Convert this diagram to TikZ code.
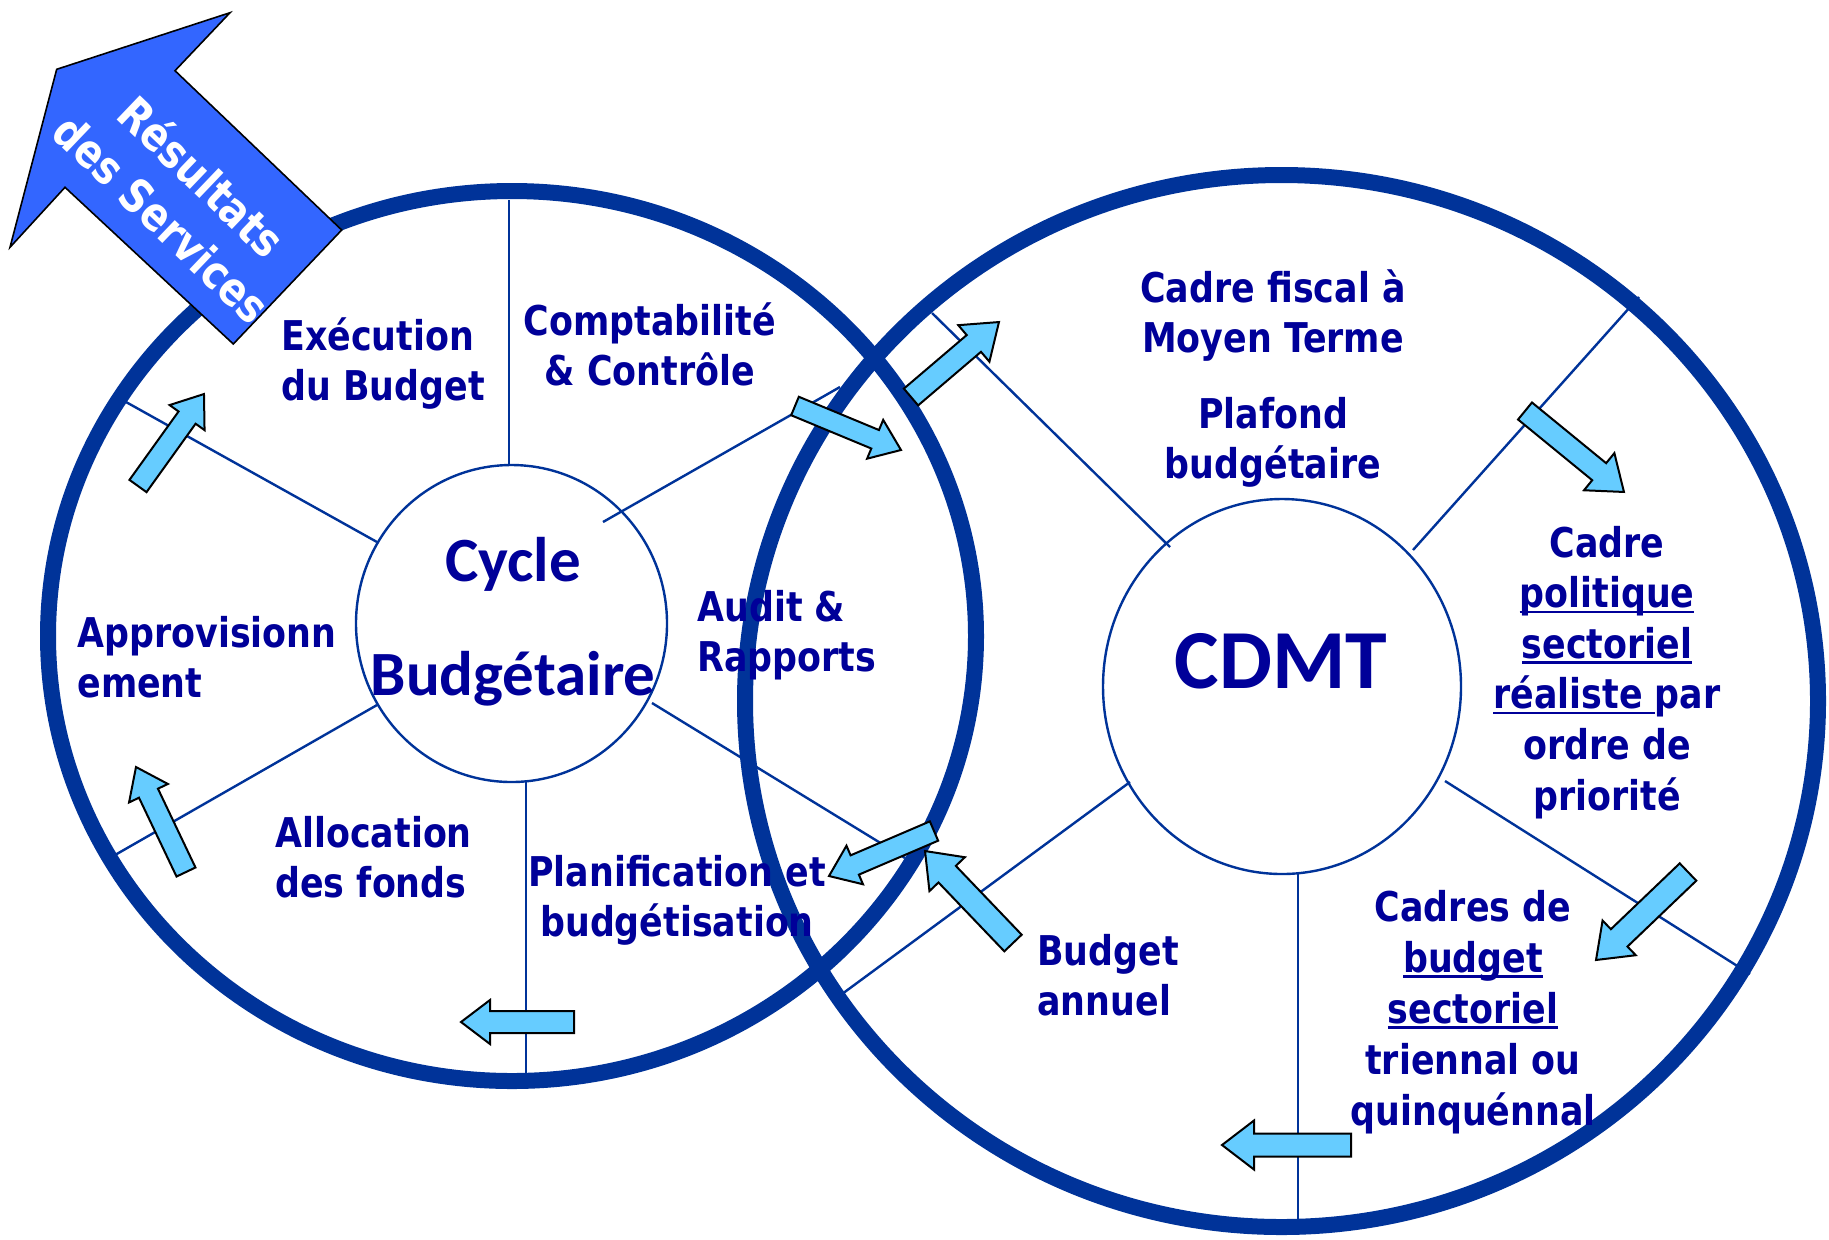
\documentclass[tikz,border=0pt]{standalone}
\usepackage{fontspec}
\newfontfamily\lblfont[FakeStretch=0.85]{DejaVu Sans}
\newfontfamily\titlefont{Carlito}
\definecolor{ringblue}{HTML}{003399}
\definecolor{txtblue}{HTML}{000099}
\definecolor{arrowfill}{HTML}{66CCFF}
\definecolor{bigfill}{HTML}{3366FF}
\newsavebox\ulbox
\newcommand{\ulx}[1]{\sbox\ulbox{#1}\rlap{\rule[-2.75pt]{\wd\ulbox}{1.25pt}}\usebox\ulbox}
% block arrow: tail x,y ; tip x,y ; shaft width ; head width ; head length
\newcommand{\barrow}[7]{%
  \pgfmathsetmacro{\bdx}{#3-#1}%
  \pgfmathsetmacro{\bdy}{#4-#2}%
  \pgfmathsetmacro{\bL}{veclen(\bdx,\bdy)}%
  \pgfmathsetmacro{\bA}{atan2(-\bdy,\bdx)}%
  \begin{scope}[shift={(#1,#2)},rotate=\bA]
    \draw[blockarrow] (0,-#5/2) -- (\bL-#7,-#5/2) -- (\bL-#7,-#6/2) -- (\bL,0)
      -- (\bL-#7,#6/2) -- (\bL-#7,#5/2) -- (0,#5/2) -- cycle;
  \end{scope}}
\begin{document}
\begin{tikzpicture}[x=0.5pt,y=-0.5pt,
  ring/.style={draw=ringblue,line width=8pt},
  hub/.style={draw=ringblue,line width=1.2pt},
  spoke/.style={draw=ringblue,line width=1.2pt},
  blockarrow/.style={fill=arrowfill,draw=black,line width=1pt,line join=miter},
  lbl/.style={text=txtblue,inner sep=0pt,font=\lblfont\bfseries\fontsize{20.5pt}{25pt}\selectfont},
  title/.style={text=txtblue,inner sep=0pt,font=\titlefont\bfseries\fontsize{31.5pt}{57pt}\selectfont}]
\useasboundingbox[fill=white] (0,0) rectangle (1829,1239);

% centres
\coordinate (LC) at (512,636);
\coordinate (LH) at (511.5,623.5);
\coordinate (RC) at (1281.5,701);
\coordinate (RH) at (1282,686.5);

% rings
\draw[ring] (LC) ellipse [x radius=464, y radius=445];
\draw[ring] (RC) ellipse [x radius=536.5, y radius=526];
\draw[hub] (LH) ellipse [x radius=155.5, y radius=158.5];
\draw[hub] (RH) ellipse [x radius=179, y radius=187.5];

% spokes, left
\coordinate (l1a) at (509,200);  \coordinate (l1b) at (509,465);
\coordinate (l2a) at (526,782);  \coordinate (l2b) at (526,1075);
\coordinate (l3a) at (126,402);  \coordinate (l3b) at (377,542);
\coordinate (l4a) at (115,855);  \coordinate (l4b) at (377,705);
\coordinate (l5a) at (603,522);  \coordinate (l5b) at (840,387);
\coordinate (l6a) at (652,703);  \coordinate (l6b) at (905,858);
\foreach \s in {l1,l2,l3,l4,l5,l6} \draw[spoke] (\s a) -- (\s b);
% spokes, right
\coordinate (r1a) at (932,313);   \coordinate (r1b) at (1170,547);
\coordinate (r2a) at (1413,550);  \coordinate (r2b) at (1639,297);
\coordinate (r3a) at (1445,781);  \coordinate (r3b) at (1750,974);
\coordinate (r4a) at (1298,874);  \coordinate (r4b) at (1298,1225);
\coordinate (r5a) at (1130,782);  \coordinate (r5b) at (842,994);
\foreach \s in {r1,r2,r3,r4,r5} \draw[spoke] (\s a) -- (\s b);

% labels (anchored at the baseline of the last line)
\node[title,anchor=base,align=center] (cycle) at (513,695) {Cycle\\Budgétaire};
\node[title,anchor=base,font=\titlefont\bfseries\fontsize{42pt}{50pt}\selectfont] (cdmt) at (1281,688) {CDMT};
\node[lbl,anchor=base west,align=left] (exec) at (281,400) {Exécution\\du Budget};
\node[lbl,anchor=base,align=center] (compta) at (650,385) {Comptabilité\\\& Contrôle};
\node[lbl,anchor=base west,align=left] (appro) at (77,697) {Approvisionn\\ement};
\node[lbl,anchor=base west,align=left] (alloc) at (275,897) {Allocation\\des fonds};
\node[lbl,anchor=base,align=center] (planif) at (677,936) {Planification et\\budgétisation};
\node[lbl,anchor=base west,align=left] (audit) at (697,671) {Audit \&\\Rapports};
\node[lbl,anchor=base,align=center] (fiscal) at (1273,352) {Cadre fiscal à\\Moyen Terme};
\node[lbl,anchor=base,align=center] (plafond) at (1273,478) {Plafond\\budgétaire};
\node[lbl,anchor=base,align=center,font=\lblfont\bfseries\fontsize{20.5pt}{25.3pt}\selectfont] (cadrepol) at (1607,810)
  {Cadre\\\ulx{politique}\\\ulx{sectoriel}\\\ulx{réaliste }par\\ordre de\\priorité};
\node[lbl,anchor=base,align=center,font=\lblfont\bfseries\fontsize{20.5pt}{25.5pt}\selectfont] (cadresbud) at (1473,1125)
  {Cadres de\\\ulx{budget}\\\ulx{sectoriel}\\triennal ou\\quinquénnal};
\node[lbl,anchor=base west,align=left] (annuel) at (1037,1015) {Budget\\annuel};

% light blue block arrows
\barrow{138}{486}{204}{394}{21}{43}{29}
\barrow{186}{872}{136}{767}{21}{43}{29}
\barrow{574}{1022}{461}{1022}{22}{44}{29}
\barrow{934}{831}{829}{876}{21}{42}{28}
\barrow{1013}{943}{925}{851}{24}{49}{32}
\barrow{911}{397}{999}{322}{22}{48}{33}
\barrow{795}{406}{901}{450}{20}{42}{28}
\barrow{1525}{411}{1624}{492}{22}{48}{32}
\barrow{1688}{872}{1596}{960}{24}{48}{32}
\barrow{1351}{1145}{1222}{1145}{23}{49}{32}

% big output arrow
\draw[fill=bigfill,draw=black,line width=0.8pt,line join=miter]
  (56.7,69.3) -- (230,12.7) -- (175,70.7) -- (341.7,230) -- (233.3,344)
  -- (65,187.3) -- (10,247.3) -- cycle;
\node[text=white,align=center,rotate=-43.7,inner sep=0pt,
      font=\lblfont\bfseries\fontsize{23pt}{29pt}\selectfont] (results) at (182.5,197)
  {Résultats\\des Services};
\end{tikzpicture}
\end{document}
